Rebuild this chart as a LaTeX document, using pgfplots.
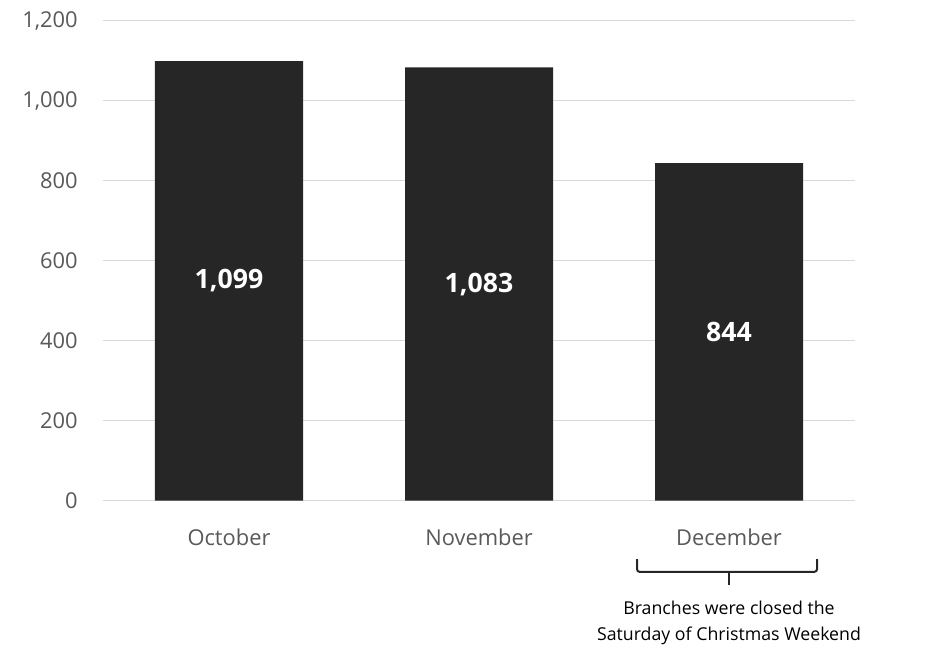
\documentclass[border=0pt]{standalone}
\usepackage{pgfplots}
\pgfplotsset{compat=1.18}
\usepackage{fontspec}
\setmainfont{Open Sans}
\definecolor{barc}{HTML}{262626}
\definecolor{labc}{HTML}{595959}
\definecolor{gridc}{HTML}{D9D9D9}
\begin{document}
\begin{tikzpicture}
\begin{axis}[
 scale only axis, width=564pt, height=360pt,
 xmin=-0.504, xmax=2.504, ymin=0, ymax=1200,
 ytick={0,200,...,1200},
 xtick={0,1,2}, xticklabels={October,November,December},
 ymajorgrids, grid style={gridc, line width=1pt},
 axis line style={draw=none},
 major tick length=0pt,
 /pgf/number format/assume math mode=true,
 /pgf/number format/1000 sep={,},
 tick label style={font=\fontsize{16.4}{19}\selectfont, text=labc},
 yticklabel style={anchor=east, inner sep=0pt, xshift=-18.75pt},
 xticklabel style={anchor=center, inner sep=0pt, yshift=-27.2pt},
 clip=false,
]
\addplot[ybar, bar width=0.592, fill=barc, draw=none,
 nodes near coords, visualization depends on=y \as \rawy,
 every node near coord/.append style={anchor=center, font=\fontsize{20}{24}\bfseries\selectfont, text=white, shift={(axis direction cs:0,-\rawy/2)}}]
 coordinates {(0,1099) (1,1083) (2,844)};
\draw[barc, line width=1.5pt, rounded corners=2pt] (axis cs:1.632,-146) -- (axis cs:1.632,-178) -- (axis cs:2.352,-178) -- (axis cs:2.352,-146);
\draw[barc, line width=1.5pt] (axis cs:2,-178) -- (axis cs:2,-211);
\node[align=center, font=\fontsize{13.3}{19.5}\selectfont, text=black] at (axis cs:2,-306) {Branches were closed the\\Saturday of Christmas Weekend};
\end{axis}
\path ([shift={(-77.25pt,-114.2pt)}]current axis.south west) rectangle ([shift={(53.25pt,15.5pt)}]current axis.north east);
\end{tikzpicture}
\end{document}
